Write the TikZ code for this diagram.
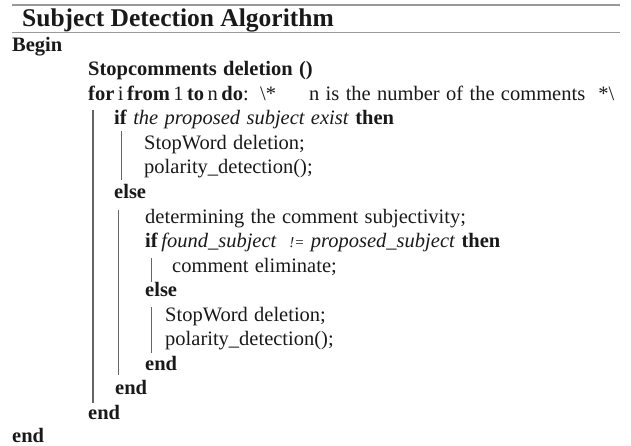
\documentclass[tikz,border=0pt]{standalone}
\usepackage{fontspec}
\setmainfont{Liberation Serif}
\newcommand{\algspacing}{\spaceskip=0.31em plus 0.1em\relax}
\newcommand{\tightspacing}{\spaceskip=0.17em\relax}
\tikzstyle{algline} = [anchor=base west, inner sep=0pt, text=black!90,
    font=\fontsize{20.5}{24}\selectfont\algspacing]
\tikzstyle{algtitle} = [anchor=base west, inner sep=0pt, text=black!90,
    font=\fontsize{25.5}{28}\selectfont\bfseries]
\tikzstyle{hrule} = [draw=black!40, line width=1.2pt]
\tikzstyle{blockbar} = [draw=black!60, line width=1.2pt]

\begin{document}
\begin{tikzpicture}[x=1pt,y=-1pt]
\useasboundingbox (0,0) rectangle (631,446);
% title between two rules
\draw[hrule] (12,5) -- (620,5);
\draw[hrule] (12,32.5) -- (620,32.5);
\node[algtitle] (title) at (22,26.5) {Subject Detection Algorithm};
% algorithm lines
\node[algline] (begin) at (12,51.5) {\textbf{Begin}};
\node[algline] (stopc) at (88,76) {\textbf{Stopcomments deletion ()}};
\node[algline] (forl) at (88,100.5) {\tightspacing\textbf{for} i \textbf{from} 1 \textbf{to} n \textbf{do}:};
\node[algline] (comm) at (260,100.5) {\textbackslash*\hspace{33pt}n is the number of the comments\hspace{13pt}*\textbackslash};
\node[algline] (ifa) at (114,125) {\textbf{if} \textit{the proposed subject exist} \textbf{then}};
\node[algline] (swa) at (144,149.5) {StopWord deletion;};
\node[algline] (pola) at (144,174) {polarity\_detection();};
\node[algline] (elsea) at (114,198.5) {\textbf{else}};
\node[algline] (determ) at (145,223) {determining the comment subjectivity;};
\node[algline] (ifb) at (145,247.5) {\textbf{if}\,\textit{found\_subject}\ \ {\fontsize{15}{18}\selectfont\itshape !=}\ \textit{proposed\_subject} \textbf{then}};
\node[algline] (elim) at (172,272) {comment eliminate;};
\node[algline] (elseb) at (145,296.5) {\textbf{else}};
\node[algline] (swb) at (165,321) {StopWord deletion;};
\node[algline] (polb) at (165,345.5) {polarity\_detection();};
\node[algline] (endb) at (145,370) {\textbf{end}};
\node[algline] (enda) at (115,394.5) {\textbf{end}};
\node[algline] (endf) at (88,419) {\textbf{end}};
\node[algline] (endall) at (12,442.5) {\textbf{end}};
% block bars
\draw[blockbar] (93,110) -- (93,403);
\draw[blockbar] (121.5,131) -- (121.5,180);
\draw[blockbar] (118.5,210) -- (118.5,375);
\draw[blockbar] (151.5,258) -- (151.5,282);
\draw[blockbar] (151.5,307) -- (151.5,353);
\end{tikzpicture}
\end{document}
